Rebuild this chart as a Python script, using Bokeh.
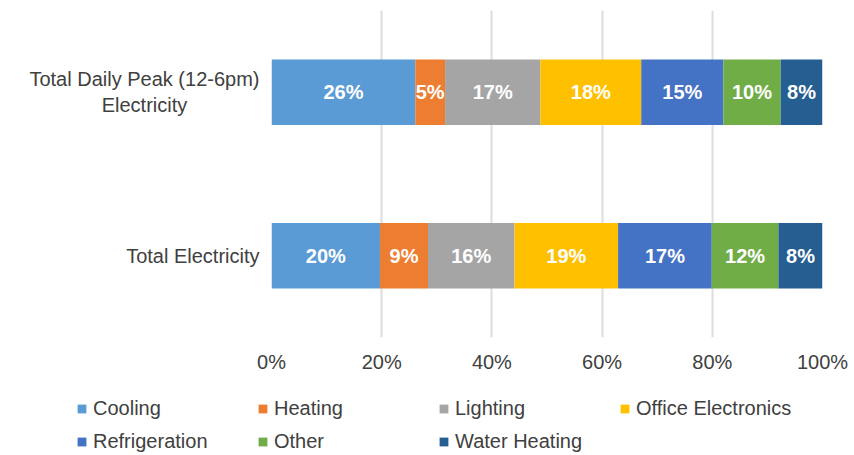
from bokeh.plotting import figure
from bokeh.layouts import column
from bokeh.models import (ColumnDataSource, FactorRange, Legend, LegendItem, FixedTicker,
                          PrintfTickFormatter, Range1d)
from bokeh.embed import file_html
from bokeh.resources import INLINE
from bokeh.core.properties import value

NB = "\u00a0"
categories = ["Total Electricity", "Total Daily Peak (12-6pm)\nElectricity" + NB * 13]
end_uses = ["Cooling", "Heating", "Lighting", "Office Electronics",
            "Refrigeration", "Other", "Water Heating"]
colors = ["#5B9BD5", "#ED7D31", "#A5A5A5", "#FFC000", "#4472C4", "#70AD47", "#255E91"]
total_elec = [19.7, 8.7, 15.7, 18.8, 17.0, 12.1, 8.0]
peak_elec = [26.1, 5.4, 17.3, 18.3, 14.9, 10.4, 7.6]
x_ticks = [0, 20, 40, 60, 80, 100]

FONT = "Liberation Sans"
TXT = "#404040"

data = {"cat": categories}
for i, name in enumerate(end_uses):
    data[name] = [total_elec[i], peak_elec[i]]
source = ColumnDataSource(data)

p = figure(y_range=FactorRange(factors=categories, range_padding=0),
           x_range=Range1d(0, 100),
           frame_width=551, frame_height=327,
           min_border_left=271, min_border_right=32, min_border_top=10, min_border_bottom=48,
           output_backend="svg", toolbar_location=None, tools="")
p.frame_align = False
p.outline_line_color = None
p.background_fill_color = "white"
p.border_fill_color = "white"

renderers = p.hbar_stack(end_uses, y="cat", height=0.4, color=colors, line_color=None, source=source)

# value labels inside the bars
lx, ly, lt = [], [], []
for ci, series in enumerate((total_elec, peak_elec)):
    left = 0.0
    for v in series:
        lx.append(left + v / 2.0)
        ly.append(categories[ci])
        lt.append(f"{round(v)}%")
        left += v
lsrc = ColumnDataSource(dict(x=lx, y=ly, t=lt))
p.text(x="x", y="y", text="t", source=lsrc, text_color="white", text_font=value(FONT),
       text_font_size="20px", text_font_style="bold", text_align="center", text_baseline="middle")

# axes
p.xaxis.ticker = FixedTicker(ticks=x_ticks)
p.xaxis.formatter = PrintfTickFormatter(format="%d%%")
for ax in (p.xaxis, p.yaxis):
    ax.axis_line_color = None
    ax.major_tick_line_color = None
    ax.minor_tick_line_color = None
    ax.major_tick_out = 0
    ax.major_tick_in = 0
    ax.major_label_text_font = FONT
    ax.major_label_text_font_size = "20px"
    ax.major_label_text_color = TXT
p.xaxis.major_label_standoff = 13
p.yaxis.major_label_standoff = 12

p.xgrid.ticker = FixedTicker(ticks=x_ticks)
p.xgrid.grid_line_color = "#DDDDDD"
p.xgrid.grid_line_width = 2
p.ygrid.grid_line_color = None

# legend strip (its swatches come from zero-size bars that draw nothing themselves)
lg = figure(width=854, height=70, x_range=Range1d(0, 1), y_range=Range1d(0, 1),
            x_axis_type=None, y_axis_type=None, min_border=0,
            output_backend="svg", toolbar_location=None, tools="")
lg.frame_align = False
lg.outline_line_color = None
lg.grid.grid_line_color = None
swatch_src = ColumnDataSource(dict(y=[0.0], left=[0.0], right=[0.0]))
dummies = [lg.hbar(y="y", left="left", right="right", height=0, fill_color=c,
                   line_color=None, source=swatch_src) for c in colors]
items = [LegendItem(label=name, renderers=[r]) for name, r in zip(end_uses, dummies)]
legend = Legend(items=items, location=(76, 2), orientation="horizontal", ncols=4,
                glyph_width=11, glyph_height=11, label_standoff=6, label_width=154,
                label_height=20, spacing=10, padding=0, margin=0,
                border_line_color=None, background_fill_alpha=0,
                label_text_font=FONT, label_text_font_size="20px", label_text_color=TXT)
lg.add_layout(legend, "center")

layout = column(p, lg, spacing=0)
open("out.html", "w").write(file_html(layout, INLINE))
